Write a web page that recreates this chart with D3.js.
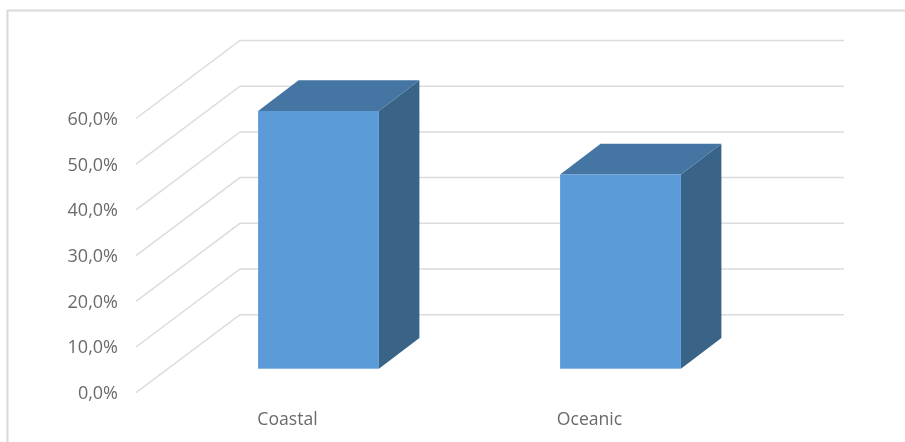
<!DOCTYPE html>
<html>
<head>
<meta charset="utf-8">
<script src="https://cdn.jsdelivr.net/npm/d3@7/dist/d3.min.js"></script>
<style>
html,body{margin:0;padding:0;background:#fff;overflow:hidden}
svg{display:block;filter:blur(0.35px)}
text{font-family:"Open Sans","Noto Sans",sans-serif;fill:#6a6a6a}
</style>
</head>
<body>
<svg id="chart" width="905" height="442"></svg>
<script>
const categories = ["Coastal", "Oceanic"];
const shares = [56.4, 42.5];
const tickValues = [0, 10, 20, 30, 40, 50, 60];
const tickLabels = ["0,0%", "10,0%", "20,0%", "30,0%", "40,0%", "50,0%", "60,0%"];

const svg = d3.select("#chart");
const y = d3.scaleLinear().domain([0, 60]).range([392.7, 118.5]);
const x = d3.scaleBand().domain(categories).range([136, 740]).paddingInner(0.6).paddingOuter(0.3);
const wallDx = 104, wallDy = 78, barOffX = 31.5, barOffY = 24, barDx = 40.5, barDy = 30.7;

// chart frame (only top and left edges are visible)
svg.append("path").attr("d", "M7.5,442V10.5H905").attr("fill", "none").attr("stroke", "#d9d9d9").attr("stroke-width", 2);

// gridlines: floor/side-wall diagonal, then back wall
svg.append("g").selectAll("path").data(tickValues).join("path")
  .attr("d", d => `M136,${y(d)}L${136 + wallDx},${y(d) - wallDy}H844`)
  .attr("fill", "none").attr("stroke", "#dcdcdc").attr("stroke-width", 1.5);

// value axis labels
const axis = d3.axisLeft(y).tickValues(tickValues).tickSize(0).tickPadding(0)
  .tickFormat((d, i) => tickLabels[i]);
const axisG = svg.append("g").attr("transform", "translate(118,0)").call(axis);
axisG.select(".domain").remove();
axisG.selectAll("text").attr("dy", "0.33em")
  .attr("style", 'font-family:"Open Sans","Noto Sans",sans-serif;font-size:18px;fill:#6a6a6a');

// bars
const bars = svg.append("g").selectAll("g").data(categories.map((c, i) => ({ c, v: shares[i] }))).join("g");
const geom = d => {
  const x0 = x(d.c) + barOffX, x1 = x0 + x.bandwidth();
  const yB = y(0) - barOffY, yT = y(d.v) - barOffY;
  return { x0, x1, yB, yT };
};
bars.append("path").attr("d", d => {
  const g = geom(d);
  return `M${g.x1},${g.yT}L${g.x1 + barDx},${g.yT - barDy}V${g.yB - barDy}L${g.x1},${g.yB}Z`;
}).attr("fill", "#396387");
bars.append("path").attr("d", d => {
  const g = geom(d);
  return `M${g.x0},${g.yT}L${g.x0 + barDx},${g.yT - barDy}H${g.x1 + barDx}L${g.x1},${g.yT}Z`;
}).attr("fill", "#4575a2");
bars.append("rect")
  .attr("x", d => geom(d).x0).attr("y", d => geom(d).yT)
  .attr("width", x.bandwidth()).attr("height", d => geom(d).yB - geom(d).yT)
  .attr("fill", "#5b9bd7");

// category labels
svg.append("g").selectAll("text").data(categories).join("text")
  .attr("x", d => x(d) + x.bandwidth() / 2 + 0.5)
  .attr("y", 425).attr("text-anchor", "middle").attr("font-size", 17.6)
  .text(d => d);
</script>
</body>
</html>
